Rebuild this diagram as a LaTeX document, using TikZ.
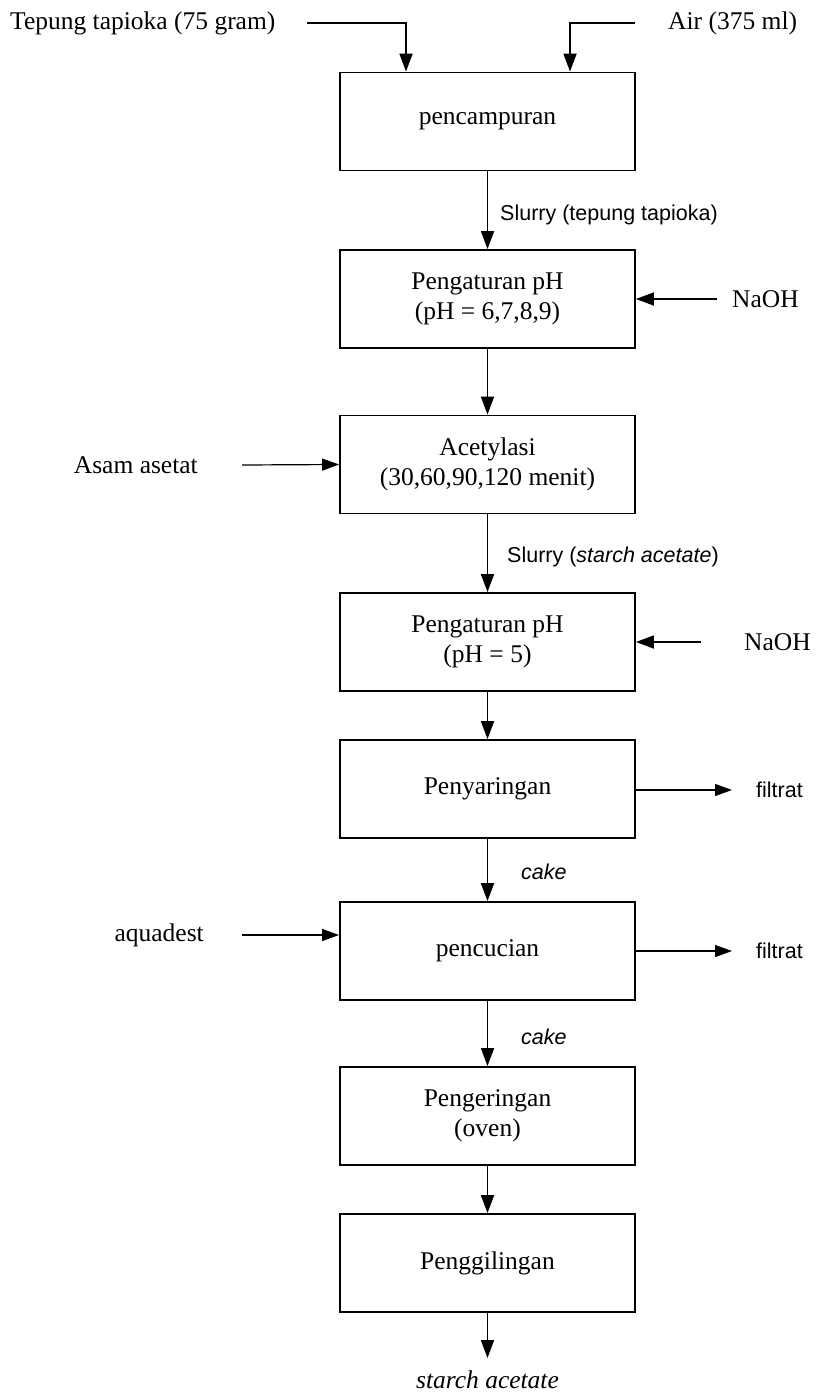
\documentclass[tikz,border=0pt]{standalone}
\usepackage{fontspec}
\setmainfont{Liberation Serif}
\setsansfont{Liberation Sans}
\usetikzlibrary{arrows.meta}
\begin{document}
\begin{tikzpicture}[x=1pt,y=-1pt,
  proc/.style={draw, line width=1.8pt, minimum width=295pt, minimum height=98pt, align=center, font=\fontsize{25.5}{30}\selectfont, inner sep=0pt},
  flow/.style={line width=1.8pt, -{Triangle[length=18pt,width=13pt]}},
  thinflow/.style={line width=1.2pt, -{Triangle[length=17pt,width=12pt]}},
  lbl/.style={font=\fontsize{25.5}{30}\selectfont, inner sep=0pt},
  slbl/.style={font=\sffamily\fontsize{21.5}{26}\selectfont, inner sep=0pt}]
\fill[white] (0,0) rectangle (815,1396);
\useasboundingbox (0,0) rectangle (815,1396);

% process boxes
\node[proc] (b1) at (487.5,121.5) {pencampuran};
\node[proc] (b2) at (487.5,299) {Pengaturan pH\\(pH = 6,7,8,9)};
\node[proc] (b3) at (487.5,464.5) {Acetylasi\\(30,60,90,120 menit)};
\node[proc] (b4) at (487.5,642) {Pengaturan pH\\(pH = 5)};
\node[proc] (b5) at (487.5,789) {Penyaringan};
\node[proc] (b6) at (487.5,951) {pencucian};
\node[proc] (b7) at (487.5,1116) {Pengeringan\\(oven)};
\node[proc] (b8) at (487.5,1263) {Penggilingan};

% input/output texts
\node[lbl, anchor=west] (tep) at (10,23) {Tepung tapioka (75 gram)};
\node[lbl, anchor=west] (air) at (668,23) {Air (375 ml)};
\node[lbl, anchor=west] (naoh1) at (732,299) {NaOH};
\node[lbl, anchor=west] (naoh2) at (744,642) {NaOH};
\node[lbl, anchor=east] (asam) at (198,465) {Asam asetat};
\node[lbl, anchor=east] (aqua) at (204,935) {aquadest};
\node[slbl, anchor=west] (fil1) at (756,790) {filtrat};
\node[slbl, anchor=west] (fil2) at (756,951) {filtrat};
\node[lbl] (prod) at (487.5,1380) {\textit{starch acetate}};

% flow labels
\node[slbl, anchor=west] (s1) at (500,215) {Slurry (tepung tapioka)};
\node[slbl, anchor=west] (s2) at (507,557) {Slurry (\textit{starch acetate})};
\node[slbl, anchor=west] (c1) at (521,872) {\textit{cake}};
\node[slbl, anchor=west] (c2) at (521,1037) {\textit{cake}};

% coordinates for free ends
\coordinate (tA) at (307,23);
\coordinate (aA) at (635,23);
\coordinate (n1) at (717,299);
\coordinate (n2) at (701,642);
\coordinate (as) at (242,465);
\coordinate (aq) at (242,935);
\coordinate (f1) at (732,790);
\coordinate (f2) at (732,951);
\coordinate (out) at (487.5,1358);

% top inputs
\draw[flow] (tA) -| ([xshift=-81.5pt]b1.north);
\draw[flow] (aA) -| ([xshift=82.5pt]b1.north);

% main flow
\draw[flow] (b1) -- (b2);
\draw[flow] (b2) -- (b3);
\draw[flow] (b3) -- (b4);
\draw[flow] (b4) -- (b5);
\draw[flow] (b5) -- (b6);
\draw[flow] (b6) -- (b7);
\draw[flow] (b7) -- (b8);
\draw[flow] (b8) -- (out);

% side streams
\draw[flow] (n1) -- (b2.east);
\draw[flow] (n2) -- (b4.east);
\draw[thinflow] (as) -- (b3.west);
\draw[thinflow] (aq) -- (b6.west |- aq);
\draw[thinflow] (b5.east |- f1) -- (f1);
\draw[thinflow] (b6.east) -- (f2);
\end{tikzpicture}
\end{document}
